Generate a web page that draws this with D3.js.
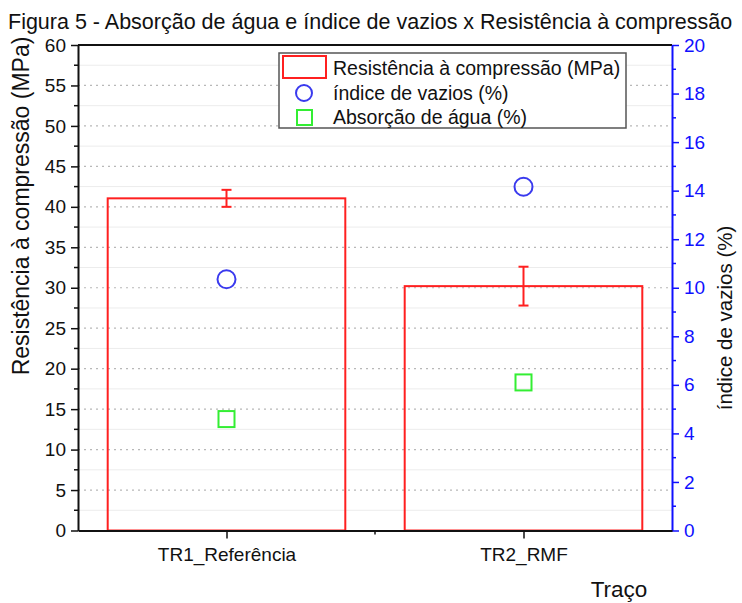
<!DOCTYPE html>
<html>
<head>
<meta charset="utf-8">
<script src="https://cdn.jsdelivr.net/npm/d3@7"></script>
<style>
  body { margin: 0; background: #fff; }
  text { font-family: "Liberation Sans", Arial, sans-serif; }
</style>
</head>
<body>
<div id="chart"></div>
<script>
// data
var categories = ["TR1_Referência", "TR2_RMF"];
var resistencia = [41.05, 30.2];        // MPa, left axis
var resistenciaErr = [1.05, 2.4];
var indiceVazios = [10.35, 14.16];      // %, right axis
var absorcao = [4.59, 6.1];             // %, right axis
var leftTicks = [0, 5, 10, 15, 20, 25, 30, 35, 40, 45, 50, 55, 60];
var rightTicks = [0, 2, 4, 6, 8, 10, 12, 14, 16, 18, 20];

function drawChart() {
  var w = 742, h = 603;
  var pLeft = 78, pRight = 672, pTop = 45, pBottom = 530.5;

  var svg = d3.select("#chart").append("svg")
    .attr("width", w).attr("height", h);

  // x is a linear index scale, Origin style (0.5 .. 2.5)
  var x = d3.scaleLinear().domain([0.5, 2.5]).range([pLeft, pRight]);
  var y = d3.scaleLinear().domain([0, 60]).range([pBottom, pTop]);
  var y2 = d3.scaleLinear().domain([0, 20]).range([pBottom, pTop]);

  // grid: faint solid at minor, dotted at major
  var minor = d3.range(2.5, 60, 5);
  svg.append("g").selectAll("line").data(minor).enter().append("line")
    .attr("x1", pLeft).attr("x2", pRight)
    .attr("y1", function(d) { return y(d); }).attr("y2", function(d) { return y(d); })
    .attr("stroke", "#ececec").attr("stroke-width", 1);
  svg.append("g").selectAll("line").data(leftTicks.filter(function(d) { return d > 0 && d < 60; }))
    .enter().append("line")
    .attr("x1", pLeft).attr("x2", pRight)
    .attr("y1", function(d) { return y(d); }).attr("y2", function(d) { return y(d); })
    .attr("stroke", "#b8b8b8").attr("stroke-width", 1.2)
    .attr("stroke-dasharray", "2,4");

  // bars
  var bw = 0.8;
  svg.append("g").selectAll("rect").data(resistencia).enter().append("rect")
    .attr("x", function(d, i) { return x(i + 1 - bw / 2); })
    .attr("y", function(d) { return y(d); })
    .attr("width", x(1 + bw) - x(1))
    .attr("height", function(d) { return pBottom - y(d); })
    .attr("fill", "none").attr("stroke", "#ff2020").attr("stroke-width", 2);

  // error bars
  var eb = svg.append("g").attr("stroke", "#ff2020").attr("stroke-width", 2);
  resistencia.forEach(function(d, i) {
    var cx = x(i + 1), hi = y(d + resistenciaErr[i]), lo = y(d - resistenciaErr[i]);
    eb.append("line").attr("x1", cx).attr("x2", cx).attr("y1", hi).attr("y2", lo);
    eb.append("line").attr("x1", cx - 5).attr("x2", cx + 5).attr("y1", hi).attr("y2", hi);
    eb.append("line").attr("x1", cx - 5).attr("x2", cx + 5).attr("y1", lo).attr("y2", lo);
  });

  // circles and squares
  svg.append("g").selectAll("circle").data(indiceVazios).enter().append("circle")
    .attr("cx", function(d, i) { return x(i + 1); })
    .attr("cy", function(d) { return y2(d); })
    .attr("r", 9)
    .attr("fill", "none").attr("stroke", "#3a3aee").attr("stroke-width", 2);
  svg.append("g").selectAll("rect").data(absorcao).enter().append("rect")
    .attr("x", function(d, i) { return x(i + 1) - 8; })
    .attr("y", function(d) { return y2(d) - 8; })
    .attr("width", 16).attr("height", 16)
    .attr("fill", "none").attr("stroke", "#33ee33").attr("stroke-width", 2);

  // top frame
  svg.append("line").attr("x1", pLeft).attr("x2", pRight).attr("y1", pTop).attr("y2", pTop)
    .attr("stroke", "#111").attr("stroke-width", 2);

  // left axis
  var gl = svg.append("g").attr("transform", "translate(" + pLeft + ",0)")
    .call(d3.axisLeft(y).tickValues(leftTicks).tickSize(7).tickSizeOuter(0).tickPadding(5));
  gl.append("g").selectAll("line").data(minor).enter().append("line")
    .attr("x1", -4).attr("x2", 0)
    .attr("y1", function(d) { return y(d); }).attr("y2", function(d) { return y(d); })
    .attr("stroke", "#111").attr("stroke-width", 1.5);
  gl.select(".domain").attr("stroke", "#111").attr("stroke-width", 2);
  gl.selectAll(".tick line").attr("stroke", "#111").attr("stroke-width", 1.5);
  gl.selectAll(".tick text").attr("font-size", 19).attr("fill", "#111")
    .attr("font-family", "Liberation Sans, Arial, sans-serif");

  // right axis, blue
  var blue = "#1010ff";
  var gr = svg.append("g").attr("transform", "translate(" + pRight + ",0)")
    .call(d3.axisRight(y2).tickValues(rightTicks).tickSize(7).tickSizeOuter(0).tickPadding(5));
  gr.append("g").selectAll("line").data(d3.range(1, 20, 2)).enter().append("line")
    .attr("x1", 0).attr("x2", 4)
    .attr("y1", function(d) { return y2(d); }).attr("y2", function(d) { return y2(d); })
    .attr("stroke", blue).attr("stroke-width", 1.5);
  gr.select(".domain").attr("stroke", blue).attr("stroke-width", 2);
  gr.selectAll(".tick line").attr("stroke", blue).attr("stroke-width", 1.5);
  gr.selectAll(".tick text").attr("font-size", 19).attr("fill", blue)
    .attr("font-family", "Liberation Sans, Arial, sans-serif");

  // bottom axis
  var gb = svg.append("g").attr("transform", "translate(0," + pBottom + ")")
    .call(d3.axisBottom(x).tickValues([1, 2]).tickSize(8).tickSizeOuter(0).tickPadding(9)
      .tickFormat(function(d) { return categories[d - 1]; }));
  gb.append("line").attr("x1", x(1.5)).attr("x2", x(1.5)).attr("y1", 0).attr("y2", 4)
    .attr("stroke", "#111").attr("stroke-width", 1.5);
  gb.select(".domain").attr("stroke", "#111").attr("stroke-width", 2);
  gb.selectAll(".tick line").attr("stroke", "#111").attr("stroke-width", 1.5);
  gb.selectAll(".tick text").attr("font-size", 19).attr("fill", "#111")
    .attr("font-family", "Liberation Sans, Arial, sans-serif");

  // titles
  svg.append("text").attr("x", 8).attr("y", 29)
    .attr("font-size", 21.5).attr("fill", "#111")
    .text("Figura 5 - Absorção de água e índice de vazios x Resistência à compressão");
  svg.append("text").attr("transform", "translate(29,206) rotate(-90)")
    .attr("text-anchor", "middle").attr("font-size", 23).attr("fill", "#111")
    .text("Resistência à compressão (MPa)");
  svg.append("text").attr("transform", "translate(732,318) rotate(-90)")
    .attr("text-anchor", "middle").attr("font-size", 20.5).attr("fill", "#111")
    .text("índice de vazios (%)");
  svg.append("text").attr("x", 619).attr("y", 597)
    .attr("text-anchor", "middle").attr("font-size", 22.5).attr("fill", "#111")
    .text("Traço");

  // legend
  var lg = svg.append("g");
  lg.append("rect").attr("x", 279).attr("y", 53).attr("width", 347).attr("height", 75)
    .attr("fill", "#fff").attr("stroke", "#555").attr("stroke-width", 1.5);
  lg.append("rect").attr("x", 283).attr("y", 56).attr("width", 43).attr("height", 22)
    .attr("fill", "none").attr("stroke", "#ff2020").attr("stroke-width", 2);
  lg.append("circle").attr("cx", 304).attr("cy", 93).attr("r", 8)
    .attr("fill", "none").attr("stroke", "#3a3aee").attr("stroke-width", 2);
  lg.append("rect").attr("x", 297).attr("y", 110).attr("width", 15).attr("height", 15)
    .attr("fill", "none").attr("stroke", "#33ee33").attr("stroke-width", 2);
  var labels = ["Resistência à compressão (MPa)", "índice de vazios (%)", "Absorção de água (%)"];
  lg.selectAll("text.lab").data(labels).enter().append("text")
    .attr("x", 333).attr("y", function(d, i) { return [68, 93, 117][i]; })
    .attr("dy", "0.35em").attr("font-size", 19.5).attr("fill", "#111")
    .text(function(d) { return d; });
}

drawChart();
</script>
</body>
</html>
